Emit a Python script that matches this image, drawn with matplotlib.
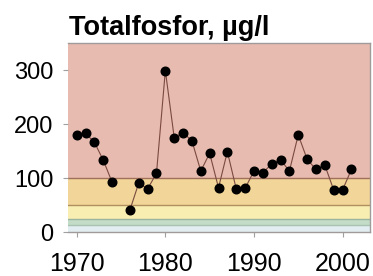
import numpy as np
import matplotlib
matplotlib.use("Agg")
import matplotlib.pyplot as plt

plt.rcParams["font.family"] = ["Liberation Sans", "DejaVu Sans"]

# Yearly values, 1975 missing
years = list(range(1970, 2002))
totp = [180, 183, 166, 133, 92, np.nan, 41, 91, 80, 109,
        299, 175, 184, 169, 113, 146, 82, 149, 80, 81,
        113, 110, 126, 134, 113, 180, 135, 116, 124, 78,
        78, 116]

# Class limits (µg/l) and band colours
limits = [0, 12.5, 25, 50, 100, 350]
band_colors = ["#e2edf1", "#c3dcc8", "#f9eeb2", "#f2d598", "#e7bbaf"]
limit_line_colors = ["#a8c4b0", "#9ab59f", "#b09060", "#a0705a"]

fig = plt.figure(figsize=(3.73, 2.76), dpi=100)
ax = fig.add_axes([0.182, 0.159, 0.810, 0.685])

for i, c in enumerate(band_colors):
    ax.axhspan(limits[i], limits[i + 1], color=c, lw=0, zorder=0)
for lim, c in zip(limits[1:-1], limit_line_colors):
    ax.axhline(lim, color=c, lw=1.0, zorder=1)

ax.plot(years, totp, color="#7a4a40", lw=0.8, marker="o", ms=6.2,
        mfc="black", mec="black", zorder=3)

ax.set_xlim(1969.0, 2003.1)
ax.set_ylim(0, 350)
ax.set_xticks([1970, 1980, 1990, 2000])
ax.set_yticks([0, 100, 200, 300])

for s in ["top", "right", "bottom"]:
    ax.spines[s].set_color("#a09a9a")
    ax.spines[s].set_linewidth(1.0)
ax.spines["left"].set_visible(False)

ax.tick_params(axis="y", length=3.5, width=0.8, color="#a0a0a0",
               labelsize=17, pad=7)
ax.tick_params(axis="x", length=3.5, width=0.8, color="#a0a0a0",
               labelsize=18, pad=11)

ax.set_title("Totalfosfor, µg/l", loc="left", fontsize=19.5,
             fontweight="bold", pad=6, x=0.005)

fig.savefig("out.png", dpi=100)
